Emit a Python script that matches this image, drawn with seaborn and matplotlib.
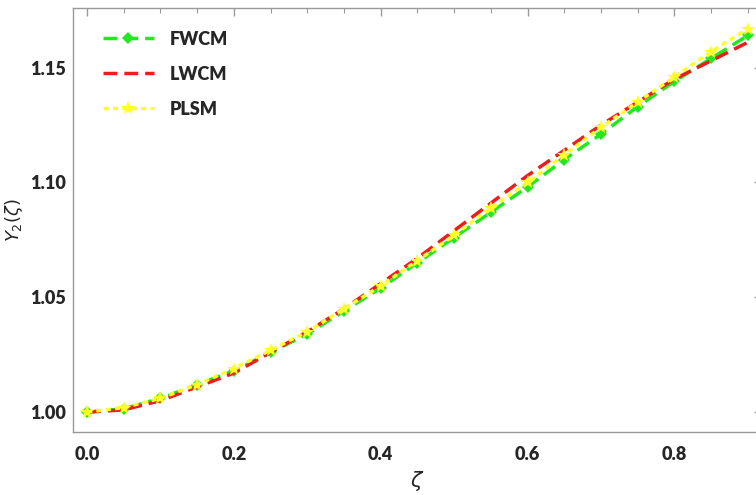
import matplotlib
matplotlib.use("Agg")
import matplotlib.pyplot as plt
import seaborn as sns
import pandas as pd
from matplotlib.ticker import MultipleLocator

zeta = [0.0, 0.05, 0.1, 0.15, 0.2, 0.25, 0.3, 0.35, 0.4, 0.45, 0.5,
        0.55, 0.6, 0.65, 0.7, 0.75, 0.8, 0.85, 0.9]
fwcm = [1.000, 1.0015, 1.006, 1.012, 1.018, 1.026, 1.034, 1.044, 1.054, 1.065,
        1.076, 1.087, 1.098, 1.110, 1.121, 1.133, 1.144, 1.154, 1.164]
lwcm = [1.000, 1.001, 1.005, 1.011, 1.017, 1.026, 1.035, 1.045, 1.056, 1.067,
        1.079, 1.091, 1.103, 1.114, 1.125, 1.135, 1.145, 1.153, 1.161]
plsm = [1.000, 1.002, 1.006, 1.012, 1.019, 1.027, 1.035, 1.045, 1.055, 1.066,
        1.077, 1.089, 1.100, 1.112, 1.124, 1.135, 1.146, 1.157, 1.167]
series_names = ["FWCM", "LWCM", "PLSM"]

sns.set_theme(style="white")
plt.rcParams['font.family'] = ['Lato', 'DejaVu Sans']

fig = plt.figure(figsize=(7.56, 4.95), dpi=100)
ax = fig.add_axes([0.0966, 0.127, 0.911, 0.857])

df_f = pd.DataFrame({"x": zeta, "y": fwcm})
df_l = pd.DataFrame({"x": zeta, "y": lwcm})
df_p = pd.DataFrame({"x": zeta, "y": plsm})

sns.lineplot(data=df_f, x="x", y="y", ax=ax, color="#22e822", lw=2.5,
             marker="D", markersize=6, markeredgewidth=0, label=series_names[0])
ax.lines[-1].set_dashes([4, 2])
sns.lineplot(data=df_l, x="x", y="y", ax=ax, color="#ee1c1c", lw=2.5,
             label=series_names[1])
ax.lines[-1].set_dashes([4, 2])
sns.lineplot(data=df_p, x="x", y="y", ax=ax, color="#ffff2a", lw=2.5,
             marker="*", markersize=10, markeredgewidth=0, label=series_names[2])
ax.lines[-1].set_dashes([1.5, 1.2])

ax.set_xlim(-0.019, 0.919)
ax.set_ylim(0.9913, 1.176)
ax.xaxis.set_major_locator(MultipleLocator(0.2))
ax.xaxis.set_minor_locator(MultipleLocator(0.05))
ax.yaxis.set_major_locator(MultipleLocator(0.05))
ax.yaxis.set_minor_locator(MultipleLocator(0.01))
ax.xaxis.set_major_formatter(matplotlib.ticker.FormatStrFormatter('%.1f'))
ax.yaxis.set_major_formatter(matplotlib.ticker.FormatStrFormatter('%.2f'))

for s in ax.spines.values():
    s.set_color("#999999")
    s.set_linewidth(1.0)
ax.tick_params(which="both", direction="in", top=True, right=True,
               color="#999999", labelsize=13)
ax.tick_params(axis="y", pad=5)
ax.tick_params(axis="x", pad=10)
ax.tick_params(which="major", length=6, width=1)
ax.tick_params(which="minor", length=3.5, width=0.8)
for lab in ax.get_xticklabels() + ax.get_yticklabels():
    lab.set_fontweight("heavy")

ax.set_xlabel(r"$\zeta$", fontsize=15, labelpad=4)
ax.set_ylabel(r"$Y_2(\zeta)$", fontsize=13, labelpad=4)

leg = ax.legend(loc="upper left", frameon=False, fontsize=13, handlelength=2.8,
                labelspacing=1.0, bbox_to_anchor=(0.02, 0.985), handletextpad=0.9)
for t in leg.get_texts():
    t.set_fontweight("heavy")

fig.savefig("out.png", dpi=100)
